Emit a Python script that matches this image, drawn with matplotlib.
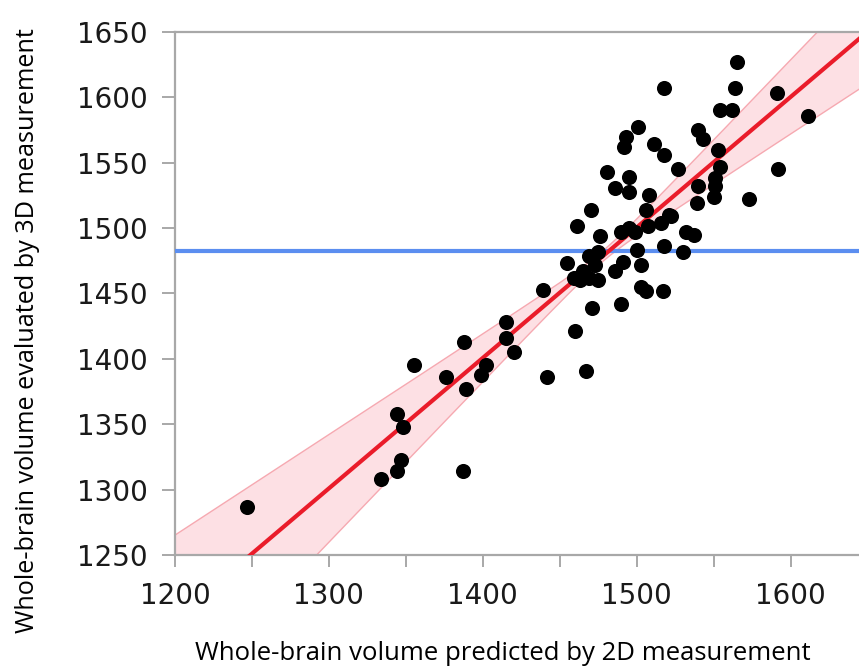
import numpy as np
import matplotlib
matplotlib.use("Agg")
import matplotlib.pyplot as plt
from matplotlib.ticker import MultipleLocator

# Data (predicted by 2D, evaluated by 3D)
pred_2d = [1247, 1344, 1348, 1347, 1344, 1334, 1387, 1471, 1460, 1467,
           1442, 1415, 1415, 1420, 1388, 1355, 1376, 1402, 1399, 1389,
           1439, 1470, 1461, 1476, 1490, 1495, 1499, 1506, 1507, 1516,
           1522, 1532, 1537, 1539, 1518, 1530, 1500, 1469, 1475, 1455,
           1473, 1491, 1503, 1486, 1459, 1463, 1469, 1475, 1465, 1503,
           1506, 1517, 1490, 1565, 1564, 1518, 1554, 1562, 1501, 1493,
           1492, 1540, 1543, 1511, 1518, 1553, 1554, 1527, 1481, 1495,
           1486, 1495, 1540, 1551, 1551, 1550, 1573, 1508, 1521, 1591,
           1611, 1592]
eval_3d = [1287, 1358, 1348, 1323, 1314, 1308, 1314, 1439, 1421, 1391,
           1386, 1428, 1416, 1405, 1413, 1395, 1386, 1395, 1388, 1377,
           1453, 1514, 1502, 1494, 1497, 1500, 1497, 1514, 1502, 1504,
           1509, 1497, 1495, 1519, 1486, 1482, 1483, 1479, 1482, 1473,
           1472, 1474, 1472, 1467, 1462, 1460, 1462, 1460, 1467, 1455,
           1452, 1452, 1442, 1627, 1607, 1607, 1590, 1590, 1577, 1570,
           1562, 1575, 1568, 1564, 1556, 1560, 1547, 1545, 1543, 1539,
           1531, 1528, 1532, 1538, 1532, 1524, 1522, 1525, 1510, 1603,
           1586, 1545]

x_ticks_major = [1200, 1300, 1400, 1500, 1600]
y_ticks = [1250, 1300, 1350, 1400, 1450, 1500, 1550, 1600, 1650]

# Confidence band shape
band_center = 1478      # x where the band is narrowest
band_min_half = 4.0     # half-width at the narrowest point
band_growth = 0.23      # half-width growth per unit distance from centre

x = np.array(pred_2d, dtype=float)
y = np.array(eval_3d, dtype=float)

slope, intercept = np.polyfit(x, y, 1)
xx = np.linspace(1190, 1660, 400)
yy = slope * xx + intercept
hw = np.sqrt(band_min_half ** 2 + (band_growth * (xx - band_center)) ** 2)

fig = plt.figure(figsize=(8.59, 6.68), dpi=100)
ax = fig.add_axes([175 / 859, 1 - 555 / 668, (859 - 175) / 859 + 0.01, (555 - 32) / 668])

ax.fill_between(xx, yy - hw, yy + hw, color="#fde0e4", zorder=1, linewidth=0)
ax.plot(xx, yy + hw, color="#f6a9b1", lw=1.0, zorder=2)
ax.plot(xx, yy - hw, color="#f6a9b1", lw=1.0, zorder=2)
ax.axhline(y.mean(), color="#5b8ef0", lw=3.0, zorder=3)
ax.plot(xx, yy, color="#ea1c2a", lw=3.0, zorder=4)
ax.scatter(x, y, s=118, color="black", zorder=5, linewidths=0)

ax.set_xlim(1200, 1650)
ax.set_ylim(1250, 1650)
ax.set_xticks(x_ticks_major)
ax.xaxis.set_minor_locator(MultipleLocator(50))
ax.set_yticks(y_ticks)

for side in ["left", "bottom", "top"]:
    ax.spines[side].set_color("#a8a8a8")
    ax.spines[side].set_linewidth(1.6)
ax.spines["right"].set_visible(False)

ax.tick_params(axis="both", which="both", direction="out", color="#a8a8a8",
               width=1.4, labelsize=20, labelcolor="#1a1a1a")
ax.tick_params(axis="x", which="both", length=8.5, pad=11)
ax.tick_params(axis="y", which="both", length=9.5, pad=10)

fig.text(0.585, 1 - 654 / 668, "Whole-brain volume predicted by 2D measurement",
         ha="center", va="center", fontsize=18.5, family="Open Sans")
fig.text(28 / 859, 1 - 331 / 668, "Whole-brain volume evaluated by 3D measurement",
         ha="center", va="center", rotation=90, fontsize=18.2, family="Open Sans")

fig.savefig("out.png", dpi=100)
